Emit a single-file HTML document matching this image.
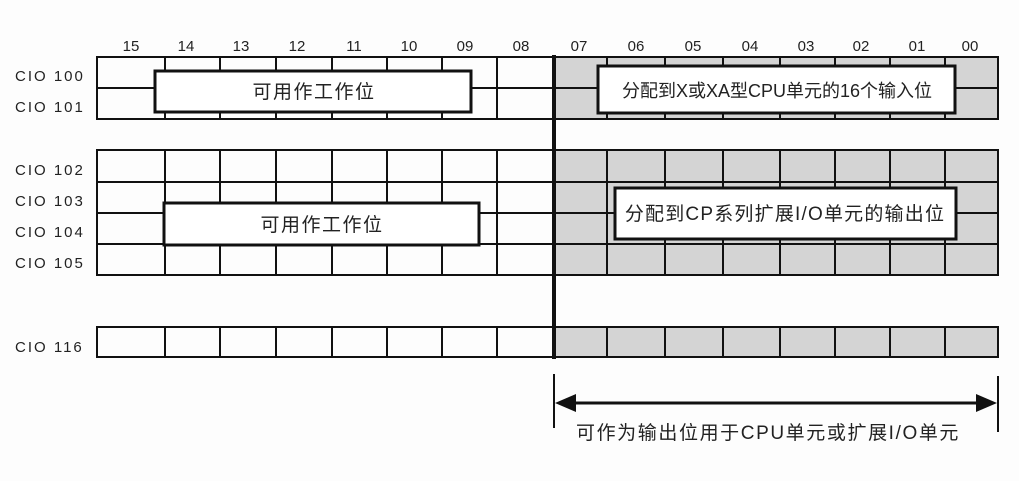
<!DOCTYPE html>
<html><head><meta charset="utf-8"><style>
html,body{margin:0;padding:0;background:#fdfdfd;}
svg{display:block;}
text{font-family:"Liberation Sans","Noto Sans CJK SC",sans-serif;fill:#222;}
</style></head><body>
<svg width="1019" height="481" viewBox="0 0 1019 481" xmlns="http://www.w3.org/2000/svg">
<rect width="1019" height="481" fill="#fdfdfd"/>
<rect x="554" y="57" width="444" height="62" fill="#d4d4d4"/>
<rect x="554" y="150" width="444" height="125" fill="#d4d4d4"/>
<rect x="554" y="327" width="444" height="30" fill="#d4d4d4"/>
<g stroke="#111" stroke-width="2" fill="none">
<rect x="97" y="57" width="901" height="62"/>
<line x1="97" y1="88" x2="998" y2="88"/>
<rect x="97" y="150" width="901" height="125"/>
<line x1="97" y1="182" x2="998" y2="182"/>
<line x1="97" y1="213" x2="998" y2="213"/>
<line x1="97" y1="244" x2="998" y2="244"/>
<rect x="97" y="327" width="901" height="30"/>
<line x1="165" y1="57" x2="165" y2="119"/><line x1="220" y1="57" x2="220" y2="119"/><line x1="276" y1="57" x2="276" y2="119"/><line x1="332" y1="57" x2="332" y2="119"/><line x1="387" y1="57" x2="387" y2="119"/><line x1="442" y1="57" x2="442" y2="119"/><line x1="497" y1="57" x2="497" y2="119"/><line x1="607" y1="57" x2="607" y2="119"/><line x1="665" y1="57" x2="665" y2="119"/><line x1="723" y1="57" x2="723" y2="119"/><line x1="780" y1="57" x2="780" y2="119"/><line x1="835" y1="57" x2="835" y2="119"/><line x1="890" y1="57" x2="890" y2="119"/><line x1="945" y1="57" x2="945" y2="119"/>
<line x1="165" y1="150" x2="165" y2="275"/><line x1="220" y1="150" x2="220" y2="275"/><line x1="276" y1="150" x2="276" y2="275"/><line x1="332" y1="150" x2="332" y2="275"/><line x1="387" y1="150" x2="387" y2="275"/><line x1="442" y1="150" x2="442" y2="275"/><line x1="497" y1="150" x2="497" y2="275"/><line x1="607" y1="150" x2="607" y2="275"/><line x1="665" y1="150" x2="665" y2="275"/><line x1="723" y1="150" x2="723" y2="275"/><line x1="780" y1="150" x2="780" y2="275"/><line x1="835" y1="150" x2="835" y2="275"/><line x1="890" y1="150" x2="890" y2="275"/><line x1="945" y1="150" x2="945" y2="275"/>
<line x1="165" y1="327" x2="165" y2="357"/><line x1="220" y1="327" x2="220" y2="357"/><line x1="276" y1="327" x2="276" y2="357"/><line x1="332" y1="327" x2="332" y2="357"/><line x1="387" y1="327" x2="387" y2="357"/><line x1="442" y1="327" x2="442" y2="357"/><line x1="497" y1="327" x2="497" y2="357"/><line x1="607" y1="327" x2="607" y2="357"/><line x1="665" y1="327" x2="665" y2="357"/><line x1="723" y1="327" x2="723" y2="357"/><line x1="780" y1="327" x2="780" y2="357"/><line x1="835" y1="327" x2="835" y2="357"/><line x1="890" y1="327" x2="890" y2="357"/><line x1="945" y1="327" x2="945" y2="357"/>
</g>
<g stroke="#111" stroke-width="3" fill="#fff">
<rect x="155" y="71" width="316" height="41"/>
<rect x="164" y="203" width="315" height="42"/>
<rect x="598" y="66" width="357" height="47"/>
<rect x="615" y="188" width="341" height="51"/>
</g>
<line x1="554" y1="55" x2="554" y2="359" stroke="#111" stroke-width="4"/>
<g stroke="#111" stroke-width="2">
<line x1="554" y1="374" x2="554" y2="428"/>
<line x1="998" y1="376" x2="998" y2="432"/>
<line x1="568" y1="403" x2="984" y2="403" stroke-width="3"/>
</g>
<polygon points="555,403 576,394 576,412" fill="#111"/>
<polygon points="997,403 976,394 976,412" fill="#111"/>
<g font-size="15" text-anchor="middle">
<text x="131" y="51">15</text><text x="186" y="51">14</text><text x="241" y="51">13</text><text x="297" y="51">12</text><text x="354" y="51">11</text><text x="409" y="51">10</text><text x="465" y="51">09</text><text x="521" y="51">08</text>
<text x="579" y="51">07</text><text x="636" y="51">06</text><text x="693" y="51">05</text><text x="750" y="51">04</text><text x="806" y="51">03</text><text x="861" y="51">02</text><text x="917" y="51">01</text><text x="970" y="51">00</text>
</g>
<g font-size="15" letter-spacing="2">
<text x="15" y="81">CIO 100</text>
<text x="15" y="112">CIO 101</text>
<text x="15" y="175">CIO 102</text>
<text x="15" y="206">CIO 103</text>
<text x="15" y="237">CIO 104</text>
<text x="15" y="268">CIO 105</text>
<text x="15" y="352">CIO 116</text>
</g>
<g font-size="19" text-anchor="middle">
<text x="314" y="98" letter-spacing="1.5">可用作工作位</text>
<text x="322" y="231" letter-spacing="1.5">可用作工作位</text>
<text x="777" y="97" font-size="18" letter-spacing="0">分配到X或XA型CPU单元的16个输入位</text>
<text x="785" y="220" letter-spacing="1.2">分配到CP系列扩展I/O单元的输出位</text>
<text x="768" y="439" letter-spacing="1.6">可作为输出位用于CPU单元或扩展I/O单元</text>
</g>
</svg>
</body></html>
